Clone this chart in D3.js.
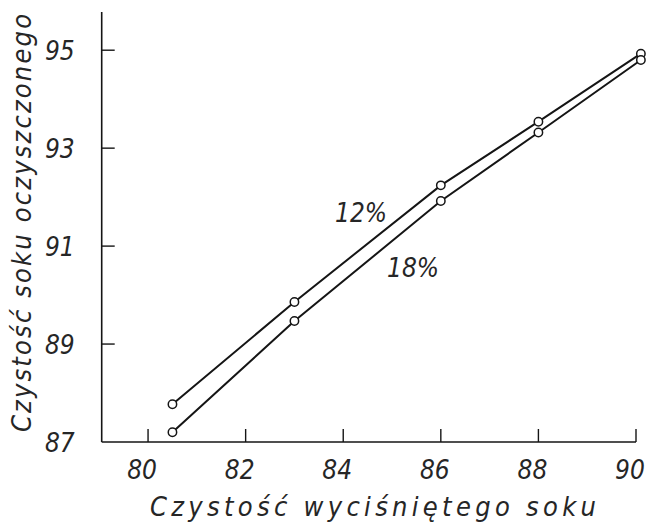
<!DOCTYPE html>
<html>
<head>
  <meta charset="utf-8">
  <title>Czystość soku</title>
  <script src="https://d3js.org/d3.v7.min.js"></script>
  <style>
    body { margin: 0; background: #fff; }
    text { font-family: "DejaVu Sans Condensed", "Liberation Sans Narrow", sans-serif; font-style: italic; fill: #262626; }
  </style>
</head>
<body>
  <div id="vis"></div>
  <script>
    const width = 646
    const height = 524

    // data
    const xValues = [80.5, 83, 86, 88, 90.1]
    const series12 = [87.77, 89.86, 92.24, 93.54, 94.93]
    const series18 = [87.2, 89.47, 91.92, 93.32, 94.8]
    const seriesNames = ["12%", "18%"]
    const xTicks = [80, 82, 84, 86, 88, 90]
    const yTicks = [87, 89, 91, 93, 95]

    const x = d3.scaleLinear().domain([79.05, 90]).range([101.7, 636])
    const y = d3.scaleLinear().domain([87, 95.78]).range([442, 12])

    const svg = d3.select("#vis")
      .append("svg")
      .attr("width", width)
      .attr("height", height)

    const ink = "#151515"

    // x axis
    const xAxis = svg.append("g").attr("transform", `translate(0,${y(87)})`)
    xAxis.append("line")
      .attr("x1", x.range()[0]).attr("x2", x.range()[1])
      .attr("stroke", ink).attr("stroke-width", 1.6)
    xAxis.selectAll(".tick").data(xTicks).enter().append("line")
      .attr("x1", d => x(d)).attr("x2", d => x(d))
      .attr("y1", 0).attr("y2", -13)
      .attr("stroke", ink).attr("stroke-width", 1.4)
    xAxis.selectAll(".lbl").data(xTicks).enter().append("text")
      .attr("x", d => x(d) - 6).attr("y", 37)
      .attr("text-anchor", "middle")
      .attr("font-size", 26)
      .text(d => d)

    // y axis
    const yAxis = svg.append("g").attr("transform", `translate(${x(79.05)},0)`)
    yAxis.append("line")
      .attr("y1", y.range()[0]).attr("y2", y.range()[1])
      .attr("stroke", ink).attr("stroke-width", 1.6)
    yAxis.selectAll(".tick").data(yTicks.filter(d => d > 87)).enter().append("line")
      .attr("y1", d => y(d)).attr("y2", d => y(d))
      .attr("x1", 0).attr("x2", 13)
      .attr("stroke", ink).attr("stroke-width", 1.4)
    yAxis.selectAll(".lbl").data(yTicks).enter().append("text")
      .attr("x", -27).attr("y", d => y(d) + 10)
      .attr("text-anchor", "end")
      .attr("font-size", 26)
      .text(d => d)

    // axis titles
    svg.append("text")
      .attr("x", 373).attr("y", 516)
      .attr("text-anchor", "middle")
      .attr("font-size", 27)
      .attr("textLength", 446).attr("lengthAdjust", "spacing")
      .text("Czystość wyciśniętego soku")

    svg.append("text")
      .attr("transform", "translate(31,223) rotate(-90)")
      .attr("text-anchor", "middle")
      .attr("font-size", 27)
      .attr("textLength", 418).attr("lengthAdjust", "spacing")
      .text("Czystość soku oczyszczonego")

    // series
    const line = d3.line().x(d => x(d[0])).y(d => y(d[1]))
    const allSeries = [series12, series18].map(s => xValues.map((v, i) => [v, s[i]]))

    allSeries.forEach(pts => {
      svg.append("path")
        .datum(pts)
        .attr("d", line)
        .attr("fill", "none")
        .attr("stroke", ink)
        .attr("stroke-width", 2)
      svg.append("g").selectAll("circle").data(pts).enter().append("circle")
        .attr("cx", d => x(d[0])).attr("cy", d => y(d[1]))
        .attr("r", 4.2)
        .attr("fill", "#fff")
        .attr("stroke", ink)
        .attr("stroke-width", 1.5)
    })

    // curve labels
    svg.append("text").attr("x", 361).attr("y", 222)
      .attr("text-anchor", "middle").attr("font-size", 26)
      .text(seriesNames[0])
    svg.append("text").attr("x", 413).attr("y", 277)
      .attr("text-anchor", "middle").attr("font-size", 26)
      .text(seriesNames[1])
  </script>
</body>
</html>
